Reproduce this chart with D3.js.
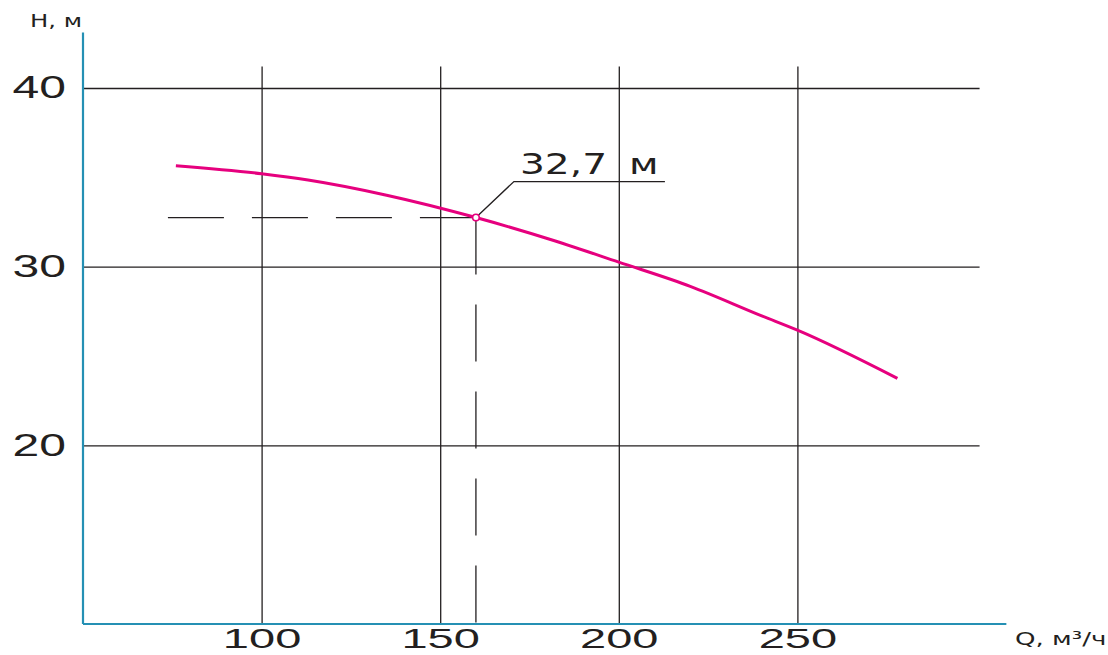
<!DOCTYPE html>
<html>
<head>
<meta charset="utf-8">
<script src="https://cdn.jsdelivr.net/npm/d3@7"></script>
<style>
  html, body { margin: 0; padding: 0; background: #fff; }
  svg { display: block; font-family: "DejaVu Sans", sans-serif; }
</style>
</head>
<body>
<svg id="chart" width="1108" height="655"></svg>
<script>
// pump curve, Q in m3/h, H in m
const flow = [76, 100, 113, 135, 160, 182, 200, 220, 240, 250, 278];
const head = [35.65, 35.2, 34.85, 34.0, 32.75, 31.45, 30.25, 28.9, 27.25, 26.45, 23.75];
const qTicks = [100, 150, 200, 250];
const hTicks = [20, 30, 40];
const dutyPoint = { q: 160, h: 32.75, label: "32,7", unit: "м" };

const pink = "#e6007e";
const teal = "#2590b4";
const ink = "#231f20";
const stretch = 1.35; // the original face is an extended one
const tickStretch = 1.55;

const svg = d3.select("#chart");
const x = d3.scaleLinear().domain([50, 300]).range([83, 976]);
const y = d3.scaleLinear().domain([10, 40]).range([624, 88]);

// vertical grid + labels
const xAxis = d3.axisBottom(x)
  .tickValues(qTicks)
  .tickSizeInner(-(y(10) - y(41.2)))
  .tickSizeOuter(0)
  .tickPadding(4);
const gx = svg.append("g").attr("transform", `translate(0,${y(10)})`).call(xAxis);
gx.select(".domain").remove();
gx.selectAll("line").attr("stroke", ink).attr("stroke-width", 1.3);
gx.selectAll("text")
  .attr("fill", ink)
  .attr("font-size", 28)
  .attr("transform", `scale(1.68,1)`);

// horizontal grid + labels
const yAxis = d3.axisLeft(y)
  .tickValues(hTicks)
  .tickSizeInner(-(x(301) - x(50)))
  .tickSizeOuter(0)
  .tickPadding(11);
const gy = svg.append("g").attr("transform", `translate(${x(50)},0)`).call(yAxis);
gy.select(".domain").remove();
gy.selectAll("line").attr("stroke", ink).attr("stroke-width", 1.3);
gy.selectAll("text")
  .attr("fill", ink)
  .attr("font-size", 31)
  .attr("transform", `scale(${tickStretch},1)`);

// axis lines
svg.append("line")
  .attr("x1", x(50)).attr("x2", x(50))
  .attr("y1", y(43.1)).attr("y2", y(10))
  .attr("stroke", teal).attr("stroke-width", 2.2);
svg.append("line")
  .attr("x1", x(50)).attr("x2", x(308.5))
  .attr("y1", y(10)).attr("y2", y(10))
  .attr("stroke", teal).attr("stroke-width", 2.2);

// axis titles
svg.append("text")
  .attr("transform", `translate(30,27) scale(${stretch},1)`)
  .attr("font-size", 18).attr("fill", ink)
  .text("H, м");
svg.append("text")
  .attr("transform", `translate(1015,645) scale(1.45,1)`)
  .attr("font-size", 18).attr("fill", ink)
  .text("Q, м³/ч");

// duty point projections
const px = x(dutyPoint.q);
const py = y(dutyPoint.h);
svg.append("line")
  .attr("x1", px).attr("x2", x(73.5))
  .attr("y1", py).attr("y2", py)
  .attr("stroke", ink).attr("stroke-width", 1.3)
  .attr("stroke-dasharray", "56 28");
svg.append("line")
  .attr("x1", px).attr("x2", px)
  .attr("y1", py).attr("y2", y(10))
  .attr("stroke", ink).attr("stroke-width", 1.3)
  .attr("stroke-dasharray", "57 30");

// curve
const points = flow.map((q, i) => [q, head[i]]);
const line = d3.line()
  .x((d) => x(d[0]))
  .y((d) => y(d[1]))
  .curve(d3.curveMonotoneX);
svg.append("path")
  .datum(points)
  .attr("d", line)
  .attr("fill", "none")
  .attr("stroke", pink)
  .attr("stroke-width", 3)
  .attr("stroke-linejoin", "round");

// leader + label
svg.append("path")
  .attr("d", `M ${px} ${py} L ${px + 38} ${py - 36} L ${px + 189} ${py - 36}`)
  .attr("fill", "none")
  .attr("stroke", ink)
  .attr("stroke-width", 1.3);
svg.append("circle")
  .attr("cx", px).attr("cy", py).attr("r", 3.3)
  .attr("fill", "#fff")
  .attr("stroke", pink).attr("stroke-width", 1.6);
svg.append("text")
  .attr("transform", `translate(${px + 44},${py - 44}) scale(${stretch},1)`)
  .attr("font-size", 29).attr("fill", ink)
  .text(dutyPoint.label);
svg.append("text")
  .attr("transform", `translate(${px + 153},${py - 44}) scale(${stretch},1)`)
  .attr("font-size", 29).attr("fill", ink)
  .text(dutyPoint.unit);
</script>
</body>
</html>
